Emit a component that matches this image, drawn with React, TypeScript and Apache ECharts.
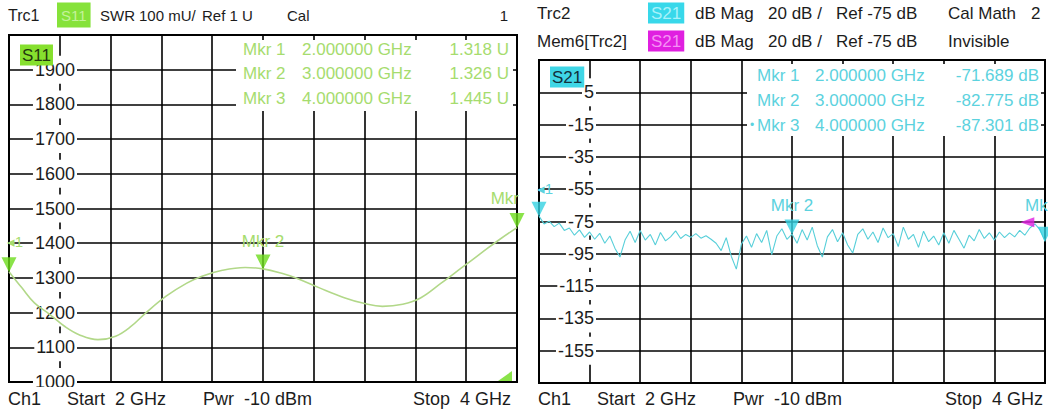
import React, { useEffect, useRef } from "react";
import * as echarts from "echarts";

// ---------- DATA ----------
const s11Freq = [2.0, 2.05, 2.1, 2.16, 2.22, 2.28, 2.35, 2.42, 2.48, 2.54, 2.62, 2.7, 2.76, 2.84, 2.93, 3.0, 3.08, 3.13, 3.22, 3.32, 3.4, 3.47, 3.55, 3.62, 3.7, 3.78, 3.86, 3.93, 4.0];
const s11Values = [1318, 1272, 1228, 1195, 1160, 1135, 1122, 1132, 1160, 1200, 1248, 1285, 1305, 1322, 1330, 1326, 1312, 1300, 1272, 1243, 1226, 1218, 1224, 1242, 1284, 1328, 1372, 1410, 1445];

// S21 sweep, 101 points, 2..4 GHz
const s21Values = [
  -71.7, -76.5, -74.8, -78.2, -76.0, -80.5, -79.0, -83.5, -80.2, -84.8,
  -81.5, -86.0, -82.3, -88.5, -84.0, -91.5, -97.0, -86.5, -81.0, -88.0,
  -80.5, -86.5, -83.0, -89.5, -81.8, -87.0, -84.5, -80.8, -85.5, -83.0,
  -84.8, -82.5, -85.3, -83.8, -86.0, -88.5, -93.0, -85.0, -96.5, -104.5,
  -89.0, -84.0, -91.0, -82.5, -88.0, -80.5, -95.5, -84.0, -79.5, -86.0,
  -82.8, -88.5, -80.0, -86.5, -78.5, -90.0, -97.0, -84.5, -80.0, -87.5,
  -82.0, -89.5, -94.5, -83.0, -79.5, -86.0, -81.5, -88.0, -79.0, -85.0,
  -82.5, -90.5, -78.5, -86.0, -83.0, -91.0, -81.0, -87.5, -84.0, -89.5,
  -82.0, -88.5, -80.5, -86.0, -91.5, -83.5, -87.0, -80.0, -85.5, -82.0,
  -86.5, -81.5, -85.0, -82.0, -84.5, -80.5, -83.5, -79.0, -76.5, -80.0,
  -87.3,
];
const sweepStart = 2;
const sweepStep = 0.02;

const markerFreqs = [2, 3, 4];
const s11MarkerValues = [1.318, 1.326, 1.445]; // U
const s21MarkerValues = [-71.689, -82.775, -87.301]; // dB
const memMarker = [3.93, -75.5];
const offscreenMarker = [4.0, 1000];

const s11YTicks = { min: 1000, max: 2000, step: 100 };
const s21YTicks = { min: -175, max: 25, step: 20 };

// ---------- STYLE ----------
const FONT = "'Liberation Sans', Arial, Helvetica, sans-serif";
const TXT = "#1c1c1c";
const GREEN_TRACE = "#b2d889";
const GREEN_MKR = "#6ddc1c";
const GREEN_TEXT = "#a6dc6e";
const CYAN_TRACE = "#57cfd9";
const CYAN_MKR = "#34d2e2";
const CYAN_TEXT = "#5cd2de";
const MAGENTA = "#e01fe0";

const downTri = "path://M0,0 L16,0 L8,14 Z";
const leftTri = "path://M14,0 L14,10 L0,5 Z";
const wedge = "path://M12,0 L12,10 L0,10 Z";

function text(t: string, x: number, y: number, opts: any = {}) {
  return {
    type: "text",
    z: opts.z ?? 20,
    style: {
      text: t,
      x,
      y,
      fill: opts.fill ?? TXT,
      font: `${opts.size ?? 17}px ${FONT}`,
      textAlign: opts.align ?? "left",
      textVerticalAlign: "middle",
      backgroundColor: opts.bg,
      padding: opts.padding,
    },
  };
}

function rect(x: number, y: number, w: number, h: number, fill: string, z = 10) {
  return { type: "rect", z, shape: { x, y, width: w, height: h }, style: { fill } };
}

export default function App() {
  const ref = useRef<HTMLDivElement>(null);

  useEffect(() => {
    if (!ref.current) return;
    const chart = echarts.init(ref.current, undefined, { renderer: "svg" });

    const gridLine = { show: true, lineStyle: { color: "#000", width: 1.6 } };
    const xAx = (g: number) => ({
      type: "value",
      gridIndex: g,
      min: 2,
      max: 4,
      interval: 0.2,
      axisLine: { show: false },
      axisTick: { show: false },
      axisLabel: { show: false },
      splitLine: gridLine,
    });
    const labelBase = {
      inside: true,
      align: "right",
      color: TXT,
      fontSize: 18,
      fontFamily: FONT,
      backgroundColor: "#fff",
      padding: [5, 2],
      showMaxLabel: false,
      formatter: (v: number) => String(Math.round(v)),
    };

    const s21Data = s21Values.map((v, i) => [sweepStart + i * sweepStep, v]);

    chart.setOption({
      animation: false,
      backgroundColor: "#fff",
      grid: [
        { left: 9, top: 35, width: 508, height: 347, show: true, borderColor: "#000", borderWidth: 2, backgroundColor: "#fff" },
        { left: 539, top: 60, width: 506, height: 323, show: true, borderColor: "#000", borderWidth: 2, backgroundColor: "#fff" },
      ],
      xAxis: [xAx(0), xAx(1)],
      yAxis: [
        {
          type: "value",
          gridIndex: 0,
          min: s11YTicks.min,
          max: s11YTicks.max,
          interval: s11YTicks.step,
          axisLine: { show: false },
          axisTick: { show: false },
          splitLine: gridLine,
          axisLabel: { ...labelBase, margin: 68 },
        },
        {
          type: "value",
          gridIndex: 1,
          min: s21YTicks.min,
          max: s21YTicks.max,
          interval: s21YTicks.step,
          axisLine: { show: false },
          axisTick: { show: false },
          splitLine: gridLine,
          axisLabel: { ...labelBase, margin: 57, showMinLabel: false },
        },
      ],
      series: [
        {
          type: "line",
          xAxisIndex: 0,
          yAxisIndex: 0,
          data: s11Freq.map((f, i) => [f, s11Values[i]]),
          smooth: 0.4,
          symbol: "none",
          lineStyle: { color: GREEN_TRACE, width: 1.6 },
          z: 3,
        },
        {
          type: "scatter",
          xAxisIndex: 0,
          yAxisIndex: 0,
          clip: false,
          symbol: downTri,
          symbolSize: [15, 15],
          symbolOffset: [0, -7],
          itemStyle: { color: GREEN_MKR },
          data: markerFreqs.map((f, i) => [f, s11MarkerValues[i] * 1000]),
          z: 5,
        },
        {
          type: "scatter",
          xAxisIndex: 0,
          yAxisIndex: 0,
          clip: false,
          symbol: wedge,
          symbolSize: [14, 10],
          symbolOffset: [-12, -6],
          itemStyle: { color: GREEN_MKR },
          data: [offscreenMarker],
          z: 5,
        },
        {
          type: "line",
          xAxisIndex: 1,
          yAxisIndex: 1,
          data: s21Data,
          symbol: "none",
          lineStyle: { color: CYAN_TRACE, width: 1.1 },
          z: 3,
        },
        {
          type: "scatter",
          xAxisIndex: 1,
          yAxisIndex: 1,
          clip: false,
          symbol: downTri,
          symbolSize: [15, 15],
          symbolOffset: [0, -7],
          itemStyle: { color: CYAN_MKR },
          data: markerFreqs.map((f, i) => [f, s21MarkerValues[i]]),
          z: 5,
        },
        {
          type: "scatter",
          xAxisIndex: 1,
          yAxisIndex: 1,
          clip: false,
          symbol: leftTri,
          symbolSize: [14, 10],
          itemStyle: { color: MAGENTA },
          data: [memMarker],
          z: 6,
        },
      ],
    });

    const px = (g: number, p: number[]) => chart.convertToPixel({ gridIndex: g }, p) as number[];

    const g: any[] = [];
    // marker tables (white boxes hiding grid)
    g.push(rect(236, 40, 277, 71, "#fff"));
    g.push(rect(747, 64, 294, 72, "#fff"));
    // bottom status bar
    g.push(rect(0, 387, 1048, 22, "#fff"));

    // left marker table
    const lRows = [49, 73, 98];
    markerFreqs.forEach((f, i) => {
      g.push(text(`Mkr ${i + 1}`, 243, lRows[i], { fill: GREEN_TEXT }));
      g.push(text(`${f.toFixed(6)} GHz`, 302, lRows[i], { fill: GREEN_TEXT }));
      g.push(text(`${s11MarkerValues[i].toFixed(3)} U`, 509, lRows[i], { fill: GREEN_TEXT, align: "right" }));
    });
    // right marker table
    const rRows = [75, 100, 125];
    markerFreqs.forEach((f, i) => {
      g.push(text(`Mkr ${i + 1}`, 757, rRows[i], { fill: CYAN_TEXT }));
      g.push(text(`${f.toFixed(6)} GHz`, 815, rRows[i], { fill: CYAN_TEXT }));
      g.push(text(`${s21MarkerValues[i].toFixed(3)} dB`, 1039, rRows[i], { fill: CYAN_TEXT, align: "right" }));
    });
    g.push(text("•", 750, rRows[2], { fill: CYAN_TEXT, size: 12 }));

    // marker labels near trace markers
    const l1 = px(0, [markerFreqs[0], s11MarkerValues[0] * 1000]);
    const l2 = px(0, [markerFreqs[1], s11MarkerValues[1] * 1000]);
    const l3 = px(0, [markerFreqs[2], s11MarkerValues[2] * 1000]);
    g.push(text("◂1", l1[0] + 6, l1[1] - 30, { fill: GREEN_TEXT, size: 15, align: "center", z: 15 }));
    g.push(text("Mkr 2", l2[0], l2[1] - 27, { fill: GREEN_TEXT, align: "center", z: 15 }));
    g.push(text("Mkr", l3[0] + 2, l3[1] - 29, { fill: GREEN_TEXT, align: "right", z: 15 }));

    const r1 = px(1, [markerFreqs[0], s21MarkerValues[0]]);
    const r2 = px(1, [markerFreqs[1], s21MarkerValues[1]]);
    const r3 = px(1, [markerFreqs[2], s21MarkerValues[2]]);
    g.push(text("◂1", r1[0] + 6, r1[1] - 28, { fill: CYAN_TEXT, size: 15, align: "center", z: 15 }));
    g.push(text("Mkr 2", r2[0], r2[1] - 29, { fill: CYAN_TEXT, align: "center", z: 15 }));
    g.push(text("Mkr", r3[0] - 20, r3[1] - 36, { fill: CYAN_TEXT, z: 15 }));

    // in-plot trace badges
    g.push(text("S11", 20, 55, { bg: "#86e02e", padding: [2, 2], fill: "#24380f", z: 25 }));
    g.push(text("S21", 550, 77, { bg: "#3fd6e6", padding: [2, 2], fill: "#12303c", z: 25 }));

    // left header
    const hy = 15;
    const hs = 15;
    g.push(text("Trc1", 8, hy, { size: 16 }));
    g.push(text("S11", 57, hy, { bg: "#86e23a", padding: [5, 4], fill: "#c4f29a", size: hs }));
    g.push(text("SWR", 100, hy, { size: hs }));
    g.push(text("100 mU/", 139, hy, { size: hs }));
    g.push(text("Ref 1 U", 202, hy, { size: hs }));
    g.push(text("Cal", 287, hy, { size: hs }));
    g.push(text("1", 508, hy, { align: "right", size: hs }));

    // right header
    const ry1 = 13;
    const ry2 = 41;
    g.push(text("Trc2", 537, ry1));
    g.push(text("S21", 648, ry1, { bg: "#38d8ea", padding: [2, 3], fill: "#a8f2fa" }));
    g.push(text("dB Mag", 695, ry1));
    g.push(text("20 dB /", 768, ry1));
    g.push(text("Ref -75 dB", 836, ry1));
    g.push(text("Cal Math", 948, ry1));
    g.push(text("2", 1031, ry1));
    g.push(text("Mem6[Trc2]", 537, ry2));
    g.push(text("S21", 648, ry2, { bg: MAGENTA, padding: [2, 3], fill: "#f590f5" }));
    g.push(text("dB Mag", 695, ry2));
    g.push(text("20 dB /", 768, ry2));
    g.push(text("Ref -75 dB", 836, ry2));
    g.push(text("Invisible", 948, ry2));

    // bottom status
    const by = 399;
    const NB = "\u00a0";
    [
      [8, 67, 203, 511],
      [538, 597, 733, 1043],
    ].forEach(([a, b, c, d]) => {
      g.push(text("Ch1", a, by, { z: 30, size: 18 }));
      g.push(text(`Start${NB}${NB}2 GHz`, b, by, { z: 30, size: 18 }));
      g.push(text(`Pwr${NB}${NB}-10 dBm`, c, by, { z: 30, size: 18 }));
      g.push(text(`Stop${NB}${NB}4 GHz`, d, by, { z: 30, size: 18, align: "right" }));
    });

    chart.setOption({ graphic: g });

    return () => chart.dispose();
  }, []);

  return (
    <div
      ref={ref}
      style={{ position: "fixed", left: 0, top: 0, width: 1048, height: 409, background: "#fff" }}
    />
  );
}
